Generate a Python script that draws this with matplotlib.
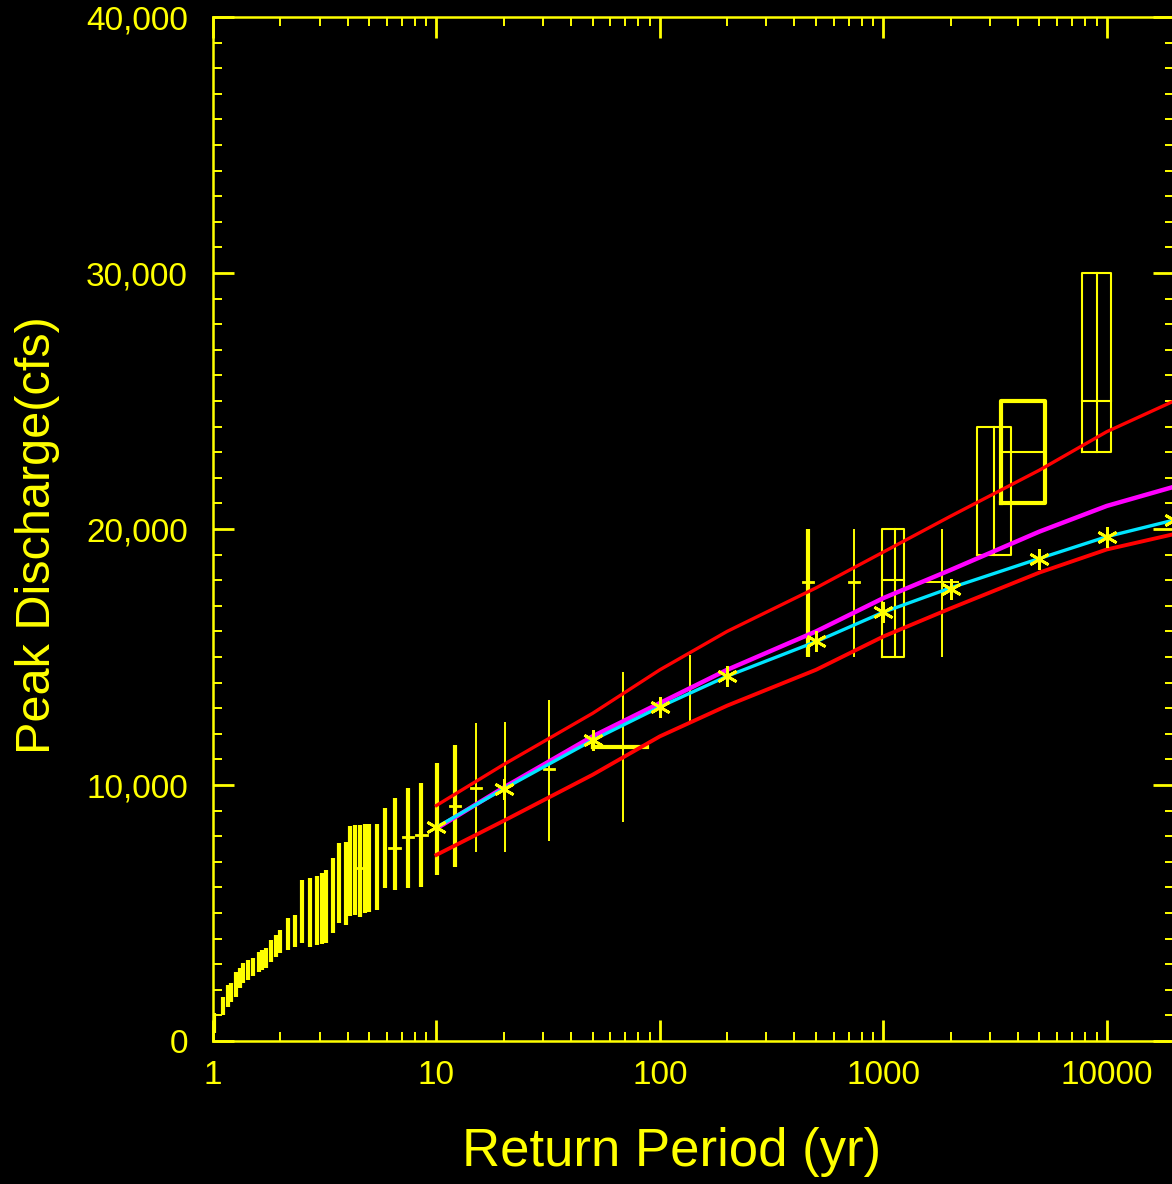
import numpy as np
import matplotlib
matplotlib.use('Agg')
import matplotlib.pyplot as plt
from matplotlib.ticker import FixedLocator, MultipleLocator, FuncFormatter

plt.rcParams['font.family'] = ['Liberation Sans Narrow', 'Liberation Sans', 'DejaVu Sans']

# systematic / historical data: return period (yr) and discharge range (cfs)
bar_T = [1.01, 1.11, 1.17, 1.21, 1.27, 1.32, 1.36, 1.43, 1.51, 1.60, 1.66, 1.73,
         1.82, 1.91, 2.0, 2.16, 2.33, 2.51, 2.72, 2.92, 3.07, 3.2, 3.46, 3.68,
         3.94, 4.1, 4.3, 4.57, 4.8, 5.0, 5.4, 5.9, 6.5, 7.46, 8.57, 10.05, 12.1,
         15.0, 20.2, 31.9, 68.3, 136, 459, 738, 1828]
bar_lo = [300, 1000, 1330, 1520, 1720, 2070, 2270, 2380, 2540, 2700, 2770, 2850,
          3090, 3280, 3440, 3550, 3670, 3830, 3670, 3750, 3790, 3830, 4220, 4610,
          4530, 4900, 4920, 4840, 5000, 5040, 5120, 5980, 5900, 5980, 6020, 6480, 6800,
          7380, 7380, 7810, 8550, 12460, 15000, 15000, 15000]
bar_hi = [1090, 1700, 2190, 2270, 2700, 2850, 3050, 3160, 3240, 3480, 3550, 3630,
          3950, 4140, 4340, 4800, 4920, 6290, 6370, 6450, 6560, 6680, 7150, 7730,
          7770, 8400, 8440, 8440, 8460, 8480, 8480, 9100, 9490, 9880, 10080, 10860, 11560,
          12420, 12460, 13320, 14410, 15080, 20000, 20000, 20000]
bar_mid = [np.nan] * 27 + [6760] + [np.nan] * 4 + [7540, 7970, 8050, np.nan, 9180,
           9880, np.nan, 10620, np.nan, np.nan, 17930, 17930, np.nan]

# threshold segments
seg_T0 = [50, 1525]
seg_T1 = [88, 2150]
seg_Q = [11480, 17930]

# paleoflood boxes
box_T0 = [985, 2620, 3357, 7730]
box_T1 = [1235, 3718, 5280, 10420]
box_Tin = [1125, 3120, np.nan, 9020]
box_lo = [15000, 19000, 21000, 23000]
box_hi = [20000, 24000, 25000, 30000]
box_mid = [18000, np.nan, 23000, 25000]

# fitted frequency curves
curve_T = [10, 20, 50, 100, 200, 500, 1000, 2000, 5000, 10000, 20000]
upper = [9200, 10800, 12800, 14500, 16000, 17700, 19100, 20500, 22300, 23800, 25000]
lower = [7270, 8600, 10400, 11900, 13100, 14500, 15800, 16900, 18300, 19200, 19800]
magenta = [8300, 9900, 11900, 13200, 14500, 16000, 17300, 18400, 19900, 20900, 21650]
cyan = [8350, 9850, 11750, 13050, 14250, 15600, 16750, 17700, 18850, 19700, 20350]
star_Q = [8360, 9840, 11760, 13050, 14260, 15620, 16760, 17660, 18830, 19690, 20350]

Y = 'yellow'
fig = plt.figure(figsize=(11.72, 11.84), dpi=100, facecolor='black')
ax = fig.add_axes([213 / 1172, 143 / 1184, 961 / 1172, 1024 / 1184], facecolor='black')
ax.set_xscale('log')
ax.set_xlim(1, 20000)
ax.set_ylim(0, 40000)

for T, lo, hi, mid in zip(bar_T, bar_lo, bar_hi, bar_mid):
    lw = 3.0 if T <= 12.5 or T == 459 else 1.4
    ax.plot([T, T], [lo, hi], color=Y, lw=lw, solid_capstyle='butt')
    if not np.isnan(mid):
        ax.plot([T / 1.055, T * 1.055], [mid, mid], color=Y, lw=2)

for t0, t1, q in zip(seg_T0, seg_T1, seg_Q):
    ax.plot([t0, t1], [q, q], color=Y, lw=3 if t0 == 50 else 1.4)
ax.plot([seg_T0[0], seg_T0[0]], [seg_Q[0], seg_Q[0] + 300], color=Y, lw=3)

for t0, t1, tin, lo, hi, mid in zip(box_T0, box_T1, box_Tin, box_lo, box_hi, box_mid):
    lw = 3.0 if t0 == 3357 else 1.5
    ax.plot([t0, t1, t1, t0, t0], [lo, lo, hi, hi, lo], color=Y, lw=lw)
    if not np.isnan(tin):
        ax.plot([tin, tin], [lo, hi], color=Y, lw=1.5)
    if not np.isnan(mid):
        ax.plot([t0, t1], [mid, mid], color=Y, lw=1.5)

ax.plot(curve_T, magenta, color='#ff00ff', lw=3.2)
ax.plot(curve_T, cyan, color='#00e5ff', lw=2.4)
ax.plot(curve_T, upper, color='red', lw=2.4)
ax.plot(curve_T, lower, color='red', lw=2.8)
ax.plot(curve_T, star_Q, ls='none', marker=(6, 2, 0), ms=15, mew=2, color=Y)

for s in ax.spines.values():
    s.set_color(Y)
    s.set_linewidth(1.8)

ax.xaxis.set_major_locator(FixedLocator([1, 10, 100, 1000, 10000]))
ax.xaxis.set_minor_locator(FixedLocator([m * 10 ** e for e in range(5) for m in range(2, 10)]))
ax.xaxis.set_major_formatter(FuncFormatter(lambda v, p: '%d' % v))
ax.yaxis.set_major_locator(MultipleLocator(10000))
ax.yaxis.set_minor_locator(MultipleLocator(1000))
ax.yaxis.set_major_formatter(FuncFormatter(lambda v, p: '{:,.0f}'.format(v)))

ax.tick_params(which='both', direction='in', top=True, right=True, colors=Y)
ax.tick_params(which='major', length=15, width=2)
ax.tick_params(which='minor', length=6.5, width=1.4)
ax.tick_params(axis='x', which='major', labelsize=24, pad=14)
ax.tick_params(axis='y', which='major', labelsize=24, pad=18)

ylabels = ax.get_yticklabels()
ylabels[0].set_va('bottom')
ylabels[-1].set_va('top')

fig.text(38 / 1172, 1 - 535 / 1184, 'Peak Discharge(cfs)', color=Y, fontsize=35,
         rotation=90, ha='center', va='center')
fig.text(672 / 1172, 1 - 1152 / 1184, 'Return Period (yr)', color=Y, fontsize=38,
         ha='center', va='center')

fig.savefig('out.png', dpi=100, facecolor='black')
